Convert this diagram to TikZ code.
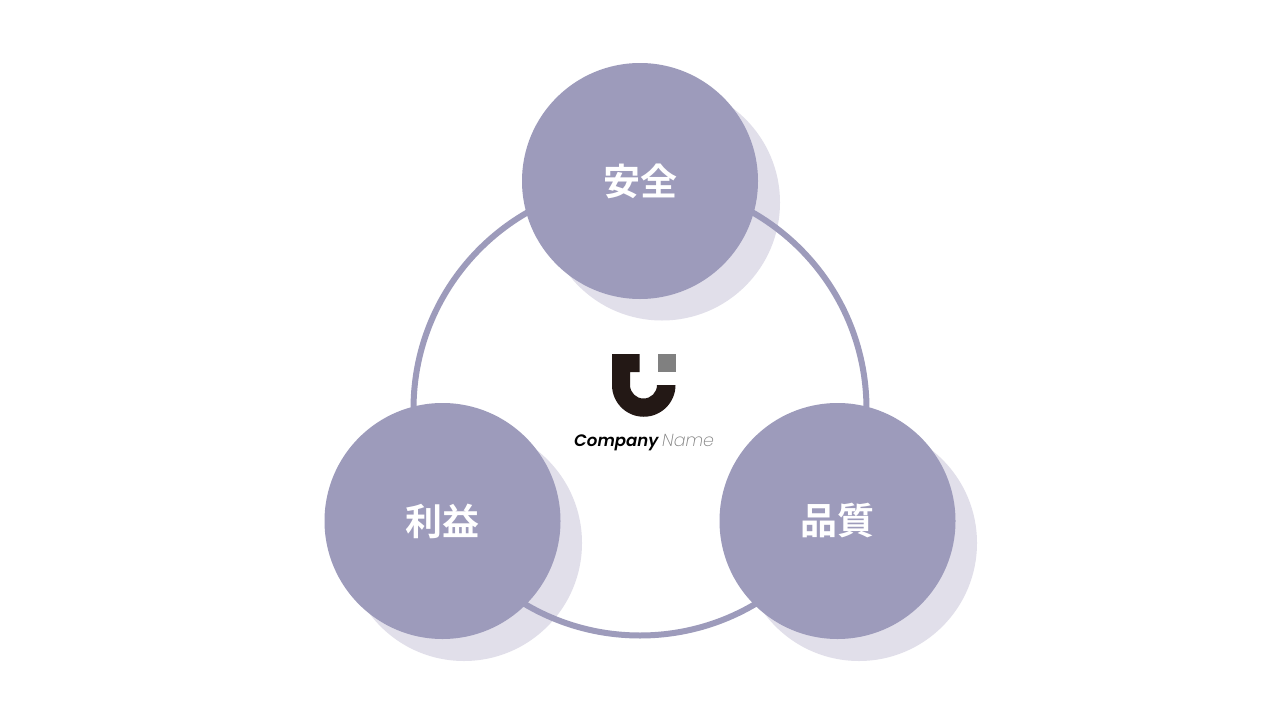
\documentclass[tikz,border=0pt]{standalone}
\usepackage{fontspec}
\setmainfont{Poppins}
\newfontfamily\cjk{Noto Sans CJK JP}[BoldFont={* Bold}]
\newfontfamily\logobold{Poppins}[UprightFont={* SemiBold Italic},BoldFont={* Bold Italic}]
\newfontfamily\logolight{Poppins}[UprightFont={* ExtraLight Italic}]
\definecolor{ringc}{HTML}{9D9BBB}
\definecolor{shadowc}{HTML}{E1DFEA}
\definecolor{logod}{HTML}{231815}
\definecolor{logog}{HTML}{808080}
\tikzset{
  disc/.style={circle,fill=ringc,draw=none,minimum size=236pt,inner sep=0pt,text=white,font=\cjk\bfseries\fontsize{37}{37}\selectfont},
  shadowdisc/.style={circle,fill=shadowc,draw=none,minimum size=236pt,inner sep=0pt},
  ring/.style={draw=ringc,line width=6pt},
  logotext/.style={inner sep=0pt,anchor=base west}
}
\begin{document}
\begin{tikzpicture}[x=1pt,y=-1pt]
\useasboundingbox (0,0) rectangle (1280,720);
\fill[white] (0,0) rectangle (1280,720);
\node[shadowdisc] (s1) at (662,202.5) {};
\node[shadowdisc] (s2) at (464,543) {};
\node[shadowdisc] (s3) at (859,543) {};
\draw[ring] (640,409) circle[radius=226.5];
\node[disc] (safety) at (640,181) {\raisebox{1pt}{安全}};
\node[disc] (profit) at (442.5,521) {\raisebox{0.5pt}{利益}};
\node[disc] (quality) at (837.5,521) {\raisebox{0.5pt}{品質}};
\fill[logod] (612,354) -- (639.5,354) -- (639.5,372) -- (630,372) -- (630,385)
  arc[start angle=180,end angle=0,radius=13.5]
  -- (675.5,385) arc[start angle=0,end angle=180,radius=31.75] -- cycle;
\fill[logog] (658,354) rectangle (676,372);
\node[logotext,text=black] (logoa) at (574,446.5) {\logobold\fontsize{16.6}{16.6}\selectfont Company};
\node[logotext,text=logog] (logob) at (662,446.5) {\logolight\fontsize{17.4}{17.4}\selectfont Name};
\end{tikzpicture}
\end{document}
